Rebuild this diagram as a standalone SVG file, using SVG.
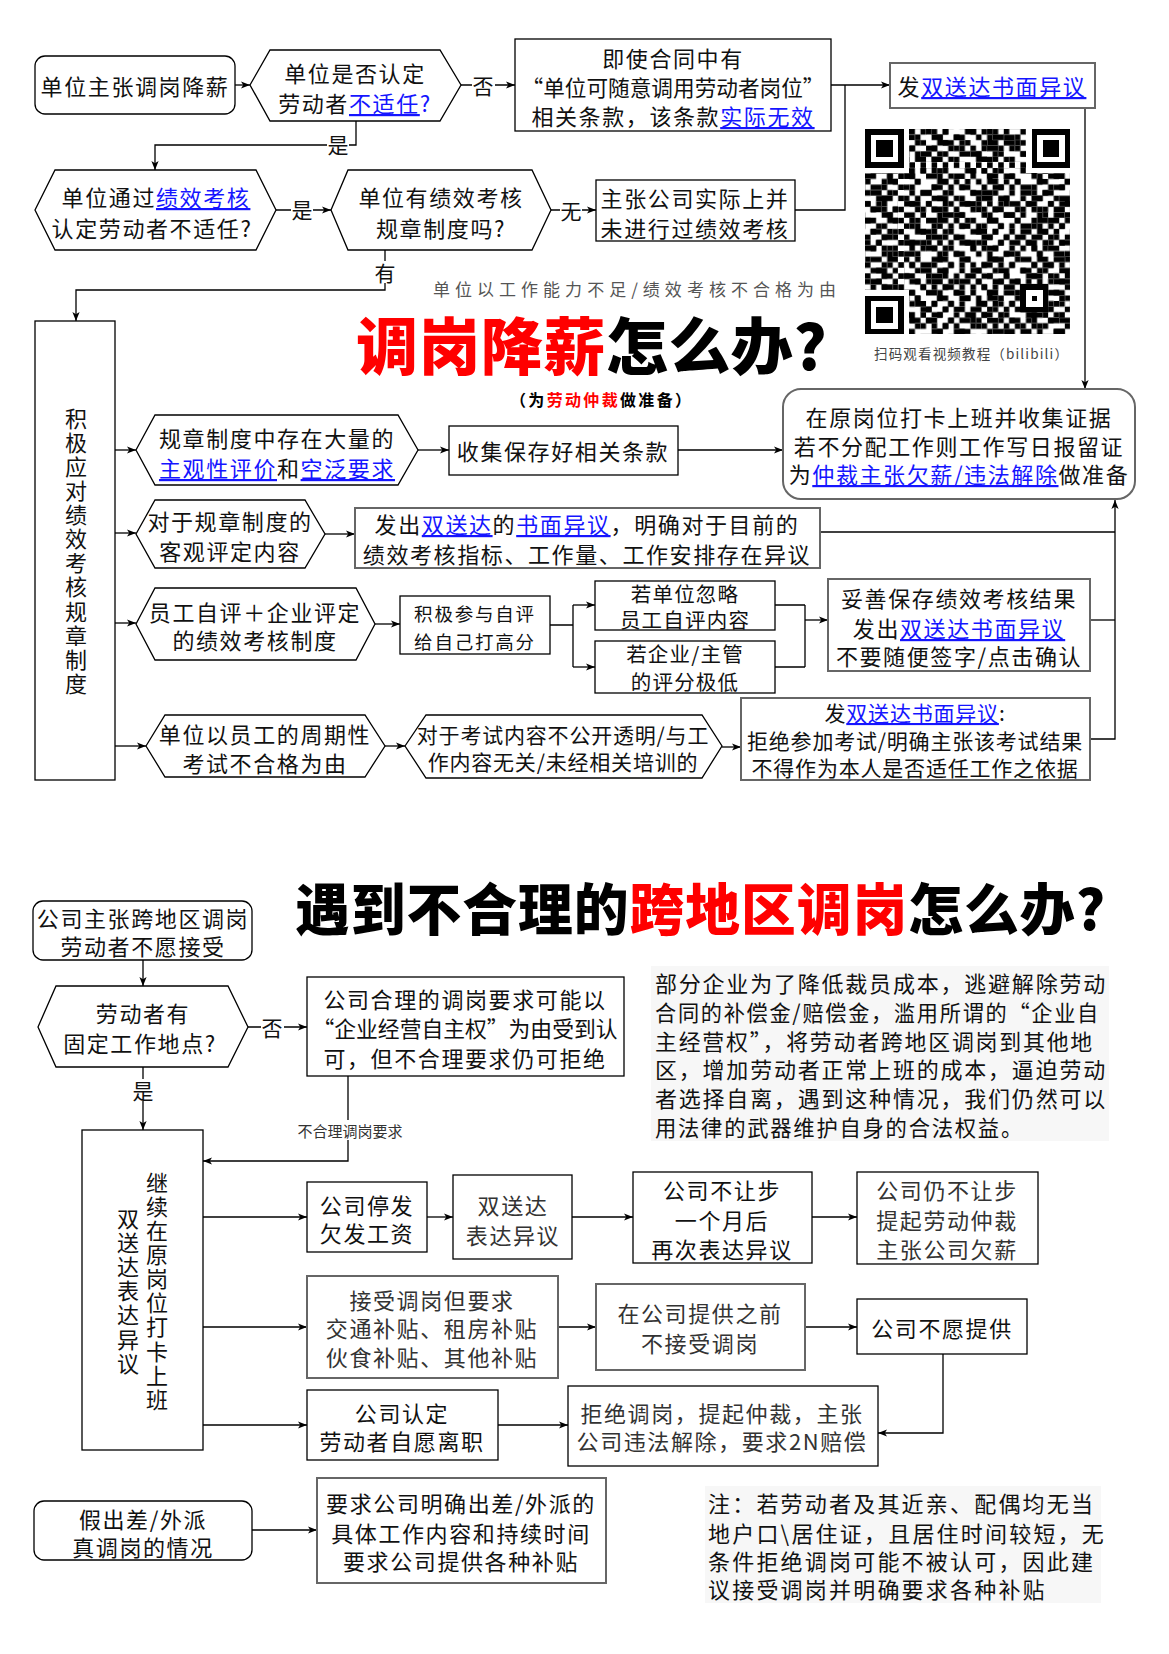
<svg xmlns="http://www.w3.org/2000/svg" width="1169" height="1654" viewBox="0 0 1169 1654">
<defs>
<style>
text{font-family:"Noto Sans CJK SC","Noto Sans",sans-serif;}
.t{font-size:22px;letter-spacing:1.6px;text-anchor:middle;dominant-baseline:central;fill:#111;}
.s{font-size:20.5px;letter-spacing:1.2px;}
.m{font-size:21px;letter-spacing:0.8px;}
.sm{font-size:18.5px;letter-spacing:1.8px;}
.g{fill:#333;}
.lp{text-anchor:start;letter-spacing:1.8px;}
.v{writing-mode:vertical-rl;letter-spacing:2.1px;}
.lk{fill:#1515ff;text-decoration:underline;}
.bx{fill:#fff;stroke:#000;stroke-width:1.3;}
.gb{fill:#fff;stroke:#666;stroke-width:2;}
.c{fill:none;stroke:#000;stroke-width:1.3;}
.ca{fill:none;stroke:#000;stroke-width:1.3;marker-end:url(#ah);}
.lb{font-size:21px;text-anchor:middle;dominant-baseline:central;fill:#111;}
.wb{fill:#fff;}
.ttl{font-weight:900;dominant-baseline:central;}
</style>
<marker id="ah" viewBox="0 0 10 10" refX="10" refY="5" markerWidth="9" markerHeight="9" markerUnits="userSpaceOnUse" orient="auto">
<path d="M0 1L10 5L0 9L2.5 5z" fill="#000"/>
</marker>
<pattern id="qa" patternUnits="userSpaceOnUse" width="11" height="13">
<path fill="#000" d="M0 0h1v1h-1zM3 0h1v1h-1zM7 0h2v1h-2zM1 1h2v1h-2zM5 1h1v1h-1zM9 1h1v1h-1zM3 2h2v1h-2zM6 2h1v1h-1zM10 2h1v1h-1zM0 3h2v1h-2zM5 3h1v1h-1zM8 3h1v1h-1zM2 4h1v1h-1zM6 4h2v1h-2zM9 4h1v1h-1zM1 5h1v1h-1zM4 5h1v1h-1zM9 5h2v1h-2zM0 6h1v1h-1zM3 6h1v1h-1zM5 6h2v1h-2zM2 7h1v1h-1zM7 7h2v1h-2zM10 7h1v1h-1zM0 8h2v1h-2zM4 8h1v1h-1zM8 8h1v1h-1zM3 9h1v1h-1zM5 9h1v1h-1zM9 9h1v1h-1zM1 10h2v1h-2zM6 10h2v1h-2zM0 11h1v1h-1zM4 11h1v1h-1zM8 11h1v1h-1zM10 11h1v1h-1zM2 12h2v1h-2zM6 12h1v1h-1zM9 12h1v1h-1z"/>
</pattern>
<pattern id="qb" patternUnits="userSpaceOnUse" x="3" y="2" width="9" height="7">
<path fill="#000" d="M1 0h2v1h-2zM6 0h1v1h-1zM0 1h1v1h-1zM3 1h1v1h-1zM5 1h1v1h-1zM2 2h1v1h-1zM7 2h2v1h-2zM0 3h2v1h-2zM4 3h1v1h-1zM3 4h1v1h-1zM5 4h2v1h-2zM8 4h1v1h-1zM0 5h1v1h-1zM2 5h1v1h-1zM7 5h1v1h-1zM1 6h1v1h-1zM4 6h2v1h-2z"/>
</pattern>
<pattern id="qt" patternUnits="userSpaceOnUse" width="2" height="2">
<rect width="1" height="1" fill="#000"/>
</pattern>
</defs>
<rect width="1169" height="1654" fill="#fff"/>

<!-- connectors -->
<g id="connectors">
<path class="ca" d="M235 85H250"/>
<path class="ca" d="M461 85H515"/>
<path class="ca" d="M356 121V145H155V170"/>
<path class="ca" d="M276 210H331"/>
<path class="ca" d="M551 210H596"/>
<path class="ca" d="M831 85H890"/>
<path class="c" d="M795 210H845V85"/>
<path class="ca" d="M1085 108V389"/>
<path class="ca" d="M385 250V290H76V321"/>
<path class="ca" d="M115 450H136"/>
<path class="ca" d="M115 533H136"/>
<path class="ca" d="M115 623H136"/>
<path class="ca" d="M115 746H146"/>
<path class="ca" d="M418 450H449"/>
<path class="ca" d="M678 450H783"/>
<path class="ca" d="M325 534H355"/>
<path class="c" d="M820 532H1115"/>
<path class="ca" d="M375 624H400"/>
<path class="c" d="M550 625H573M573 605V667"/>
<path class="ca" d="M573 605H595"/>
<path class="ca" d="M573 667H595"/>
<path class="c" d="M775 605H805M775 667H805M805 605V667"/>
<path class="ca" d="M805 620H828"/>
<path class="c" d="M1090 620H1115"/>
<path class="ca" d="M385 746H405"/>
<path class="ca" d="M722 747H741"/>
<path class="ca" d="M1090 739H1115V500"/>

<path class="ca" d="M143 960V986"/>
<path class="ca" d="M248 1027H307"/>
<path class="ca" d="M143 1067V1130"/>
<path class="ca" d="M348 1076V1161H203"/>
<path class="ca" d="M203 1217H307"/>
<path class="ca" d="M427 1217H453"/>
<path class="ca" d="M572 1217H633"/>
<path class="ca" d="M812 1217H857"/>
<path class="ca" d="M203 1327H307"/>
<path class="ca" d="M558 1327H596"/>
<path class="ca" d="M805 1327H857"/>
<path class="ca" d="M203 1425H307"/>
<path class="ca" d="M498 1425H568"/>
<path class="ca" d="M943 1354V1433H878"/>
<path class="ca" d="M252 1530H317"/>

<rect class="wb" x="472" y="74" width="23" height="22"/><text class="lb" x="483" y="85">否</text>
<rect class="wb" x="327" y="134" width="22" height="22"/><text class="lb" x="338" y="144">是</text>
<rect class="wb" x="291" y="199" width="22" height="22"/><text class="lb" x="302" y="209">是</text>
<rect class="wb" x="560" y="199" width="22" height="22"/><text class="lb" x="571" y="210">无</text>
<rect class="wb" x="374" y="261" width="22" height="22"/><text class="lb" x="385" y="272">有</text>
<rect class="wb" x="261" y="1016" width="23" height="22"/><text class="lb" x="272" y="1027">否</text>
<rect class="wb" x="132" y="1079" width="22" height="22"/><text class="lb" x="143" y="1090">是</text>
<rect class="wb" x="287" y="1120" width="126" height="20"/><text class="lb" x="350" y="1130" style="font-size:15px;fill:#333">不合理调岗要求</text>
</g>

<!-- top section nodes -->
<g id="n-start">
<rect class="bx" x="35" y="56" width="200" height="58" rx="10"/>
<text class="t" x="135" y="85">单位主张调岗降薪</text>
</g>
<g id="n-q1">
<polygon class="bx" points="250,85 270,50 440,50 461,85 440,121 270,121"/>
<text class="t" x="355" y="72">单位是否认定</text>
<text class="t" x="355" y="102">劳动者<tspan class="lk">不适任</tspan><tspan fill="#1515ff">?</tspan></text>
</g>
<g id="n-contract">
<rect class="bx" x="515" y="39" width="316" height="92"/>
<text class="t" x="673" y="57">即使合同中有</text>
<text class="t" x="673" y="86" textLength="303" lengthAdjust="spacingAndGlyphs" style="letter-spacing:0">“单位可随意调用劳动者岗位”</text>
<text class="t" x="673" y="115">相关条款，该条款<tspan class="lk">实际无效</tspan></text>
</g>
<g id="n-objection1">
<rect class="gb" x="890" y="63" width="205" height="45"/>
<text class="t" x="992" y="85">发<tspan class="lk">双送达书面异议</tspan></text>
</g>
<g id="n-q2">
<polygon class="bx" points="35,210 55,170 256,170 276,210 256,250 55,250"/>
<text class="t" x="156" y="196">单位通过<tspan class="lk">绩效考核</tspan></text>
<text class="t" x="152" y="227">认定劳动者不适任?</text>
</g>
<g id="n-q3">
<polygon class="bx" points="331,210 348,170 532,170 551,210 532,250 348,250"/>
<text class="t" x="441" y="196">单位有绩效考核</text>
<text class="t" x="441" y="227">规章制度吗?</text>
</g>
<g id="n-noassess">
<rect class="bx" x="596" y="180" width="199" height="61"/>
<text class="t" x="695" y="197">主张公司实际上并</text>
<text class="t" x="695" y="227">未进行过绩效考核</text>
</g>

<g id="title1">
<text x="433" y="288" textLength="403" lengthAdjust="spacing" style="font-size:17px;fill:#555;dominant-baseline:central">单位以工作能力不足/绩效考核不合格为由</text>
<text class="ttl" x="356" y="343" style="font-size:62px;letter-spacing:0.5px"><tspan fill="#f00">调岗降薪</tspan><tspan fill="#000">怎么办?</tspan></text>
<text x="510" y="399" textLength="181" lengthAdjust="spacing" style="font-size:16px;font-weight:700;dominant-baseline:central">（为<tspan fill="#f00">劳动仲裁</tspan>做准备）</text>
</g>

<g id="qr" transform="translate(865,129) scale(5.55)" shape-rendering="crispEdges">
<rect width="37" height="37" fill="url(#qa)"/>
<rect width="37" height="37" fill="url(#qb)"/>
<rect x="8" y="6" width="21" height="1" fill="#fff"/>
<rect x="6" y="8" width="1" height="21" fill="#fff"/>
<rect x="8" y="6" width="21" height="1" fill="url(#qt)"/>
<rect x="6" y="8" width="1" height="21" fill="url(#qt)"/>
<rect x="0" y="0" width="8" height="8" fill="#fff"/>
<rect x="29" y="0" width="8" height="8" fill="#fff"/>
<rect x="0" y="29" width="8" height="8" fill="#fff"/>
<rect x="0" y="0" width="7" height="7" fill="#000"/><rect x="1" y="1" width="5" height="5" fill="#fff"/><rect x="2" y="2" width="3" height="3" fill="#000"/>
<rect x="30" y="0" width="7" height="7" fill="#000"/><rect x="31" y="1" width="5" height="5" fill="#fff"/><rect x="32" y="2" width="3" height="3" fill="#000"/>
<rect x="0" y="30" width="7" height="7" fill="#000"/><rect x="1" y="31" width="5" height="5" fill="#fff"/><rect x="2" y="32" width="3" height="3" fill="#000"/>
<rect x="28" y="28" width="5" height="5" fill="#000"/><rect x="29" y="29" width="3" height="3" fill="#fff"/><rect x="30" y="30" width="1" height="1" fill="#000"/>
</g>
<text x="874" y="353" textLength="194" lengthAdjust="spacing" style="font-size:13.5px;fill:#444;dominant-baseline:central">扫码观看视频教程（bilibili）</text>

<g id="n-active">
<rect class="bx" x="35" y="321" width="80" height="459"/>
<text class="t v" x="76" y="552">积极应对绩效考核规章制度</text>
</g>
<g id="n-a">
<polygon class="bx" points="136,450 155,415 398,415 418,450 398,485 155,485"/>
<text class="t" x="277" y="437">规章制度中存在大量的</text>
<text class="t" x="277" y="467"><tspan class="lk">主观性评价</tspan>和<tspan class="lk">空泛要求</tspan></text>
</g>
<g id="n-a2">
<rect class="bx" x="449" y="426" width="229" height="49"/>
<text class="t" x="563" y="450">收集保存好相关条款</text>
</g>
<g id="n-keep">
<rect class="gb" x="783" y="389" width="352" height="110" rx="18"/>
<text class="t" x="959" y="416">在原岗位打卡上班并收集证据</text>
<text class="t" x="959" y="445">若不分配工作则工作写日报留证</text>
<text class="t" x="959" y="473">为<tspan class="lk">仲裁主张欠薪/违法解除</tspan>做准备</text>
</g>
<g id="n-b">
<polygon class="bx" points="136,534 155,500 305,500 325,534 305,568 155,568"/>
<text class="t" x="230" y="520">对于规章制度的</text>
<text class="t" x="230" y="550">客观评定内容</text>
</g>
<g id="n-b2">
<rect class="gb" x="355" y="508" width="465" height="60"/>
<text class="t" x="587" y="523">发出<tspan class="lk">双送达</tspan>的<tspan class="lk">书面异议</tspan>，明确对于目前的</text>
<text class="t" x="587" y="553">绩效考核指标、工作量、工作安排存在异议</text>
</g>
<g id="n-c">
<polygon class="bx" points="136,624 155,588 356,588 375,624 356,660 155,660"/>
<text class="t" x="255" y="611">员工自评＋企业评定</text>
<text class="t" x="255" y="639">的绩效考核制度</text>
</g>
<g id="n-c1">
<rect class="bx" x="400" y="596" width="150" height="58"/>
<text class="t sm" x="475" y="613">积极参与自评</text>
<text class="t sm" x="475" y="641">给自己打高分</text>
</g>
<g id="n-c2">
<rect class="bx" x="595" y="581" width="180" height="49"/>
<text class="t s" x="685" y="593">若单位忽略</text>
<text class="t s" x="685" y="619">员工自评内容</text>
</g>
<g id="n-c3">
<rect class="bx" x="595" y="641" width="180" height="52"/>
<text class="t s" x="685" y="653">若企业/主管</text>
<text class="t s" x="685" y="681">的评分极低</text>
</g>
<g id="n-c4">
<rect class="gb" x="828" y="579" width="262" height="92"/>
<text class="t" x="959" y="597">妥善保存绩效考核结果</text>
<text class="t" x="959" y="627">发出<tspan class="lk">双送达书面异议</tspan></text>
<text class="t" x="959" y="655">不要随便签字/点击确认</text>
</g>
<g id="n-d">
<polygon class="bx" points="146,746 165,715 365,715 385,746 365,777 165,777"/>
<text class="t" x="265" y="733">单位以员工的周期性</text>
<text class="t" x="265" y="762">考试不合格为由</text>
</g>
<g id="n-e">
<polygon class="bx" points="405,746 426,715 702,715 722,746 702,778 426,778"/>
<text class="t m" x="563" y="734">对于考试内容不公开透明/与工</text>
<text class="t m" x="563" y="761">作内容无关/未经相关培训的</text>
</g>
<g id="n-d2">
<rect class="gb" x="741" y="698" width="349" height="82"/>
<text class="t m" x="915" y="712">发<tspan class="lk">双送达书面异议</tspan>:</text>
<text class="t m" x="915" y="740">拒绝参加考试/明确主张该考试结果</text>
<text class="t m" x="915" y="767">不得作为本人是否适任工作之依据</text>
</g>

<!-- bottom section -->
<g id="title2">
<text class="ttl" x="295" y="905" textLength="811" lengthAdjust="spacingAndGlyphs" style="font-size:56px;letter-spacing:1px"><tspan fill="#000">遇到不合理的</tspan><tspan fill="#f00">跨地区调岗</tspan><tspan fill="#000">怎么办?</tspan></text>
</g>
<g id="n-start2">
<rect class="bx" x="33" y="901" width="219" height="59" rx="10"/>
<text class="t" x="143" y="917">公司主张跨地区调岗</text>
<text class="t" x="143" y="945">劳动者不愿接受</text>
</g>
<g id="n-fixed">
<polygon class="bx" points="38,1027 56,986 228,986 248,1027 228,1067 56,1067"/>
<text class="t" x="143" y="1012">劳动者有</text>
<text class="t" x="140" y="1042">固定工作地点?</text>
</g>
<g id="n-reason">
<rect class="bx" x="307" y="977" width="317" height="99"/>
<text class="t" x="465" y="998">公司合理的调岗要求可能以</text>
<text class="t" x="465" y="1027" textLength="305" lengthAdjust="spacingAndGlyphs" style="letter-spacing:0">“企业经营自主权”为由受到认</text>
<text class="t" x="465" y="1057">可，但不合理要求仍可拒绝</text>
</g>
<g id="n-para">
<rect x="651" y="966" width="458" height="175" fill="#f7f7f7"/>
<text class="t lp" x="655" y="982" textLength="452" lengthAdjust="spacingAndGlyphs">部分企业为了降低裁员成本，逃避解除劳动</text>
<text class="t lp" x="655" y="1011" textLength="445" lengthAdjust="spacingAndGlyphs">合同的补偿金/赔偿金，滥用所谓的“企业自</text>
<text class="t lp" x="655" y="1040" textLength="439" lengthAdjust="spacingAndGlyphs">主经营权”，将劳动者跨地区调岗到其他地</text>
<text class="t lp" x="655" y="1068" textLength="452" lengthAdjust="spacingAndGlyphs">区，增加劳动者正常上班的成本，逼迫劳动</text>
<text class="t lp" x="655" y="1097" textLength="452" lengthAdjust="spacingAndGlyphs">者选择自离，遇到这种情况，我们仍然可以</text>
<text class="t lp" x="655" y="1126" textLength="369" lengthAdjust="spacingAndGlyphs">用法律的武器维护自身的合法权益。</text>
</g>
<g id="n-stay">
<rect class="bx" x="82" y="1130" width="121" height="320"/>
<text class="t v" x="157" y="1292">继续在原岗位打卡上班</text>
<text class="t v" x="128" y="1292">双送达表达异议</text>
</g>
<g id="n-r1a">
<rect class="bx" x="307" y="1182" width="120" height="70"/>
<text class="t" x="367" y="1204">公司停发</text>
<text class="t" x="367" y="1232">欠发工资</text>
</g>
<g id="n-r1b">
<rect class="bx" x="453" y="1175" width="119" height="84"/>
<text class="t g" x="513" y="1204">双送达</text>
<text class="t g" x="513" y="1234">表达异议</text>
</g>
<g id="n-r1c">
<rect class="bx" x="633" y="1172" width="179" height="91"/>
<text class="t" x="722" y="1189">公司不让步</text>
<text class="t" x="722" y="1219">一个月后</text>
<text class="t" x="722" y="1248">再次表达异议</text>
</g>
<g id="n-r1d">
<rect class="bx" x="857" y="1172" width="181" height="92"/>
<text class="t g" x="947" y="1189">公司仍不让步</text>
<text class="t g" x="947" y="1219">提起劳动仲裁</text>
<text class="t g" x="947" y="1248">主张公司欠薪</text>
</g>
<g id="n-r2a">
<rect class="gb" x="307" y="1276" width="251" height="102"/>
<text class="t g" x="432" y="1299">接受调岗但要求</text>
<text class="t g" x="432" y="1327">交通补贴、租房补贴</text>
<text class="t g" x="432" y="1356">伙食补贴、其他补贴</text>
</g>
<g id="n-r2b">
<rect class="gb" x="596" y="1284" width="209" height="86"/>
<text class="t g" x="700" y="1312">在公司提供之前</text>
<text class="t g" x="700" y="1342">不接受调岗</text>
</g>
<g id="n-r2c">
<rect class="bx" x="857" y="1299" width="170" height="55"/>
<text class="t" x="942" y="1327">公司不愿提供</text>
</g>
<g id="n-r3a">
<rect class="bx" x="307" y="1390" width="191" height="70"/>
<text class="t" x="402" y="1412">公司认定</text>
<text class="t" x="402" y="1440">劳动者自愿离职</text>
</g>
<g id="n-r3b">
<rect class="bx" x="568" y="1386" width="310" height="80"/>
<text class="t g" x="722" y="1412">拒绝调岗，提起仲裁，主张</text>
<text class="t g" x="722" y="1440">公司违法解除，要求2N赔偿</text>
</g>
<g id="n-fake">
<rect class="bx" x="34" y="1501" width="218" height="59" rx="10"/>
<text class="t" x="143" y="1518">假出差/外派</text>
<text class="t" x="143" y="1546">真调岗的情况</text>
</g>
<g id="n-fake2">
<rect class="gb" x="317" y="1478" width="289" height="105"/>
<text class="t" x="461" y="1502">要求公司明确出差/外派的</text>
<text class="t" x="461" y="1532">具体工作内容和持续时间</text>
<text class="t" x="461" y="1560">要求公司提供各种补贴</text>
</g>
<g id="n-note">
<rect x="705" y="1486" width="396" height="117" fill="#f7f7f7"/>
<text class="t lp" x="708" y="1502" style="letter-spacing:2.2px">注：若劳动者及其近亲、配偶均无当</text>
<text class="t lp" x="708" y="1532" style="letter-spacing:2.2px">地户口\居住证，且居住时间较短，无</text>
<text class="t lp" x="708" y="1560" style="letter-spacing:2.2px">条件拒绝调岗可能不被认可，因此建</text>
<text class="t lp" x="708" y="1588" style="letter-spacing:2.2px">议接受调岗并明确要求各种补贴</text>
</g>
</svg>
